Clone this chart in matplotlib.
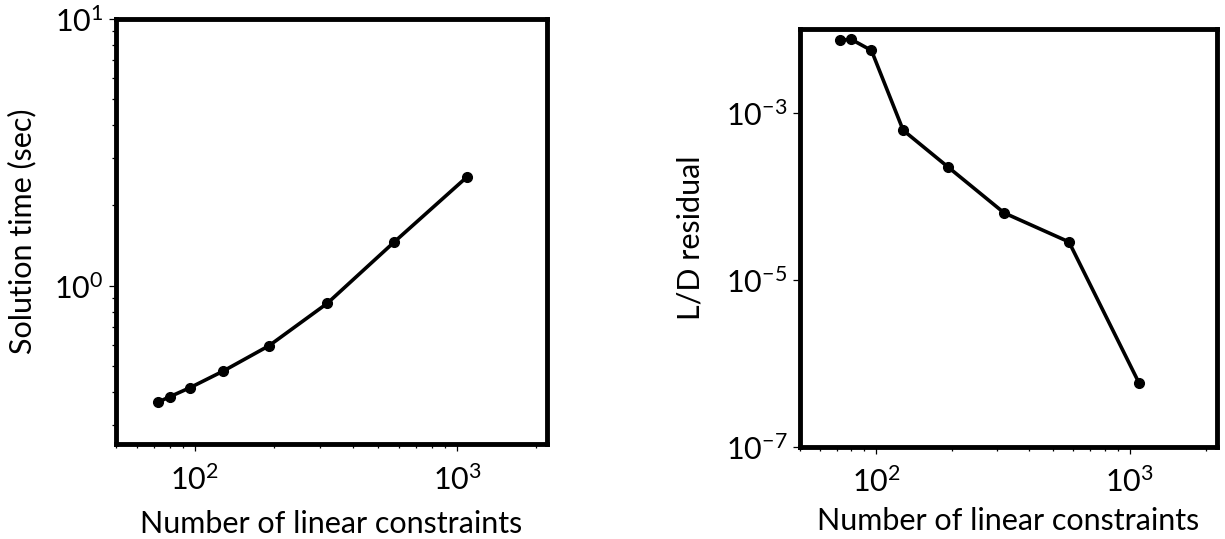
import matplotlib
matplotlib.use("Agg")
import matplotlib.pyplot as plt
from matplotlib.ticker import NullLocator, NullFormatter

plt.rcParams['font.family'] = ['Lato', 'DejaVu Sans']
plt.rcParams['mathtext.fontset'] = 'custom'
plt.rcParams['mathtext.rm'] = 'Lato'
plt.rcParams['mathtext.it'] = 'Lato:italic'
plt.rcParams['mathtext.bf'] = 'Lato:bold'

# number of linear constraints
n_constraints = [72, 80, 96, 128, 192, 320, 576, 1088]
# solution time in seconds
solve_time = [0.365, 0.383, 0.415, 0.478, 0.596, 0.859, 1.458, 2.55]
# L/D residual
ld_residual = [7.42e-3, 7.57e-3, 5.58e-3, 6.18e-4, 2.25e-4, 6.32e-5, 2.84e-5, 5.79e-7]

fig = plt.figure(figsize=(12.25, 5.39), dpi=100)
ax1 = fig.add_axes([0.0947, 0.1763, 0.4463 - 0.0947, 0.9647 - 0.1763])
ax2 = fig.add_axes([0.6527, 0.1712, 0.9932 - 0.6527, 0.9456 - 0.1712])


def style(ax, xpad):
    ax.set_xscale('log')
    ax.set_yscale('log')
    for s in ax.spines.values():
        s.set_linewidth(3.5)
    ax.tick_params(which='major', direction='out', length=5, width=0.9,
                   labelsize=22, top=False, right=False)
    ax.tick_params(which='minor', direction='out', length=3, width=0.9,
                   top=False, right=False)
    ax.tick_params(axis='x', which='major', pad=9.5)
    ax.tick_params(axis='y', which='major', pad=4)
    ax.set_xlim(50, 2200)
    ax.set_xlabel('Number of linear constraints', fontsize=22, labelpad=xpad)


ax1.plot(n_constraints, solve_time, '-o', color='black', lw=2.6, ms=7)
style(ax1, 11)
ax1.set_ylim(0.255, 10)
ax1.set_ylabel('Solution time (sec)', fontsize=22, labelpad=13)

ax2.plot(n_constraints, ld_residual, '-o', color='black', lw=2.6, ms=7)
style(ax2, 7)
ax2.set_ylim(1e-7, 1e-2)
ax2.set_yticks([1e-7, 1e-5, 1e-3])
ax2.yaxis.set_minor_locator(NullLocator())
ax2.yaxis.set_minor_formatter(NullFormatter())
ax2.set_ylabel('L/D residual', fontsize=22, labelpad=15)

fig.savefig('out.png', dpi=100)
